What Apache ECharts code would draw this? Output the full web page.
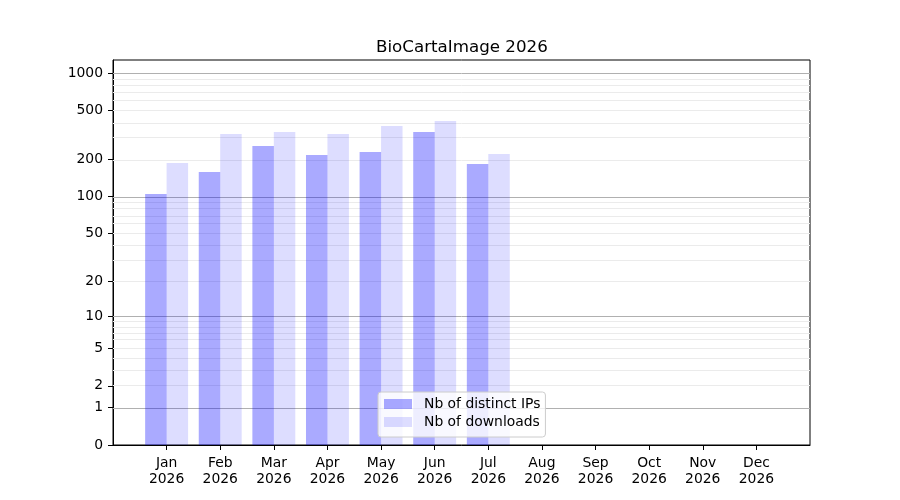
<!DOCTYPE html>
<html>
<head>
<meta charset="utf-8">
<script src="https://cdn.jsdelivr.net/npm/echarts@6/dist/echarts.min.js"></script>
<style>
  html, body { margin: 0; padding: 0; background: #fff; }
  #main { width: 900px; height: 500px; }
</style>
</head>
<body>
<div id="main"></div>
<script>
var chartDom = document.getElementById('main');
var myChart = echarts.init(chartDom);

// data (symlog-like y axis: log10(1 + v))
const months = ['Jan', 'Feb', 'Mar', 'Apr', 'May', 'Jun', 'Jul', 'Aug', 'Sep', 'Oct', 'Nov', 'Dec'];
const year = '2026';
const distinctIPs = [105, 159, 258, 218, 231, 335, 184];
const downloads = [188, 323, 335, 323, 375, 411, 222];
const yTickValues = [0, 1, 2, 5, 10, 20, 50, 100, 200, 500, 1000];
const majorGrid = [1, 10, 100, 1000];
const minorGrid = [2, 3, 4, 5, 6, 7, 8, 9, 20, 30, 40, 50, 60, 70, 80, 90, 200, 300, 400, 500, 600, 700, 800, 900];

const fontFamily = 'DejaVu Sans';

function fwd(v) {
  return Math.log10(1 + v);
}
function inv(t) {
  return Math.round(Math.pow(10, t) - 1);
}

const gridLines = []
  .concat(minorGrid.map(v => ({ yAxis: fwd(v), lineStyle: { color: '#ebebeb', width: 1, type: 'solid' } })))
  .concat(majorGrid.map(v => ({ yAxis: fwd(v), lineStyle: { color: '#b0b0b0', width: 1, type: 'solid' } })));

const option = {
  animation: false,
  title: {
    text: 'BioCartaImage ' + year,
    left: 371,
    top: 34,
    textStyle: { fontFamily: fontFamily, fontSize: 16.7, fontWeight: 'normal', color: '#000' },
  },
  legend: {
    orient: 'vertical',
    left: 378,
    top: 392,
    padding: [5, 5, 8, 6],
    itemWidth: 28,
    itemHeight: 10,
    itemGap: 4,
    icon: 'rect',
    borderColor: '#cccccc',
    borderWidth: 1,
    borderRadius: 3,
    backgroundColor: 'rgba(255,255,255,0.8)',
    textStyle: { fontFamily: fontFamily, fontSize: 13.9, color: '#000', padding: [0, 0, 0, 7] },
    data: ['Nb of distinct IPs', 'Nb of downloads'],
  },
  grid: {
    left: 113,
    right: 90,
    top: 60,
    bottom: 55,
    containLabel: false,
    show: true,
    borderColor: '#000',
    borderWidth: 1,
  },
  xAxis: {
    type: 'value',
    min: -1,
    max: 12,
    splitLine: { show: false },
    axisLine: { show: true, onZero: false, lineStyle: { color: '#000', width: 1 } },
    axisTick: {
      show: true,
      length: 5,
      customValues: months.map((m, i) => i),
      lineStyle: { color: '#000' },
    },
    axisLabel: {
      show: true,
      margin: 10,
      customValues: months.map((m, i) => i),
      fontFamily: fontFamily,
      fontSize: 13.9,
      color: '#000',
      lineHeight: 16,
      formatter: function (v) {
        return months[Math.round(v)] + '\n' + year;
      },
    },
  },
  yAxis: {
    type: 'value',
    min: 0,
    max: 3.107,
    splitLine: { show: false },
    axisLine: { show: true, onZero: false, lineStyle: { color: '#000', width: 1 } },
    axisTick: {
      show: true,
      length: 5,
      customValues: yTickValues.map(fwd),
      lineStyle: { color: '#000' },
    },
    axisLabel: {
      show: true,
      margin: 10,
      customValues: yTickValues.map(fwd),
      fontFamily: fontFamily,
      fontSize: 13.9,
      color: '#000',
      formatter: function (t) {
        return String(inv(t));
      },
    },
  },
  series: [
    {
      name: 'Nb of distinct IPs',
      type: 'bar',
      barWidth: 21.5,
      barGap: '-100%',
      itemStyle: { color: 'rgba(0,0,255,0.333)' },
      data: distinctIPs.map((v, i) => [i - 0.2, fwd(v)]),
      z: 2,
      markLine: {
        silent: true,
        z: 1,
        symbol: ['none', 'none'],
        label: { show: false },
        emphasis: { disabled: true },
        data: gridLines,
      },
    },
    {
      name: 'Nb of downloads',
      type: 'bar',
      barWidth: 21.5,
      barGap: '-100%',
      itemStyle: { color: 'rgba(0,0,255,0.133)' },
      data: downloads.map((v, i) => [i + 0.2, fwd(v)]),
      z: 2,
    },
  ],
};

myChart.setOption(option);
</script>
</body>
</html>
